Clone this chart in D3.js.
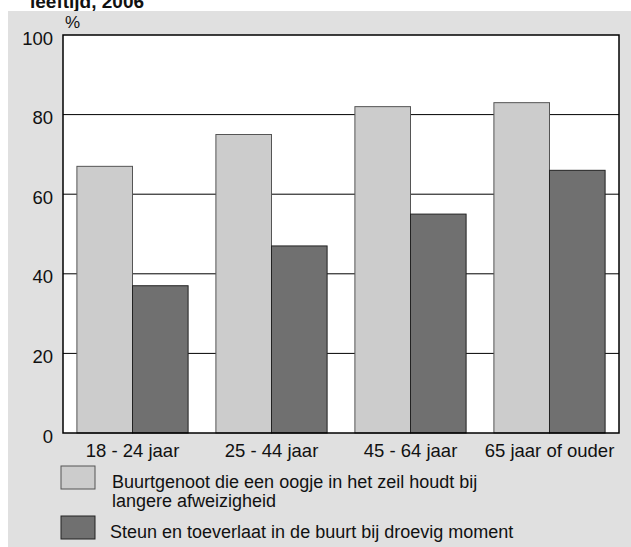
<!DOCTYPE html>
<html>
<head>
<meta charset="utf-8">
<script src="https://cdn.jsdelivr.net/npm/d3@7"></script>
<style>
  body { margin: 0; background: #fff; }
  text { font-family: "Liberation Sans", Arial, Helvetica, sans-serif; fill: #111; }
</style>
</head>
<body>
<script>
const width = 631;
const height = 547;

// data
const groups = ["18 - 24 jaar", "25 - 44 jaar", "45 - 64 jaar", "65 jaar of ouder"];
const seriesNames = [
  ["Buurtgenoot die een oogje in het zeil houdt bij", "langere afweizigheid"],
  ["Steun en toeverlaat in de buurt bij droevig moment"]
];
const oogje = [67, 75, 82, 83];
const steun = [37, 47, 55, 66];
const yTicks = [0, 20, 40, 60, 80, 100];

const colors = ["#cccccc", "#707070"];
const strokes = ["#555", "#222"];

const svg = d3.select("body")
  .append("svg")
  .attr("width", width)
  .attr("height", height);

// title line, only its lower part shows at the top edge
svg.append("text")
  .attr("x", 30)
  .attr("y", 8)
  .style("font-size", "19px")
  .style("font-weight", "bold")
  .text("leeftijd, 2006");

// grey panel
svg.append("rect")
  .attr("x", 8)
  .attr("y", 11)
  .attr("width", width - 8)
  .attr("height", height - 11)
  .attr("fill", "#e0e0e0");

const plot = { left: 63, right: 619, top: 35, bottom: 433 };

const y = d3.scaleLinear().domain([0, 100]).range([plot.bottom, plot.top]);
const x0 = d3.scaleBand().domain(groups).range([plot.left, plot.right])
  .paddingInner(0.2).paddingOuter(0.1);
const x1 = d3.scaleBand().domain([0, 1]).range([0, x0.bandwidth()]);

// plot background
svg.append("rect")
  .attr("x", plot.left)
  .attr("y", plot.top)
  .attr("width", plot.right - plot.left)
  .attr("height", plot.bottom - plot.top)
  .attr("fill", "#fff");

// gridlines
svg.append("g")
  .selectAll("line")
  .data(yTicks.filter(d => d > 0 && d < 100))
  .join("line")
  .attr("x1", plot.left)
  .attr("x2", plot.right)
  .attr("y1", d => y(d))
  .attr("y2", d => y(d))
  .attr("stroke", "#000")
  .attr("stroke-width", 1);

// bars
const rows = groups.map((g, i) => ({ g, vals: [oogje[i], steun[i]] }));
svg.append("g")
  .selectAll("g")
  .data(rows)
  .join("g")
  .attr("transform", d => `translate(${x0(d.g)},0)`)
  .selectAll("rect")
  .data(d => d.vals.map((v, k) => ({ v, k })))
  .join("rect")
  .attr("x", d => x1(d.k))
  .attr("y", d => y(d.v))
  .attr("width", x1.bandwidth())
  .attr("height", d => y(0) - y(d.v))
  .attr("fill", d => colors[d.k])
  .attr("stroke", d => strokes[d.k])
  .attr("stroke-width", 1);

// frame
svg.append("rect")
  .attr("x", plot.left)
  .attr("y", plot.top)
  .attr("width", plot.right - plot.left)
  .attr("height", plot.bottom - plot.top)
  .attr("fill", "none")
  .attr("stroke", "#000")
  .attr("stroke-width", 1.5);

// y tick labels
svg.append("g")
  .selectAll("text")
  .data(yTicks)
  .join("text")
  .attr("x", 53)
  .attr("y", d => y(d) + 9.5)
  .attr("text-anchor", "end")
  .style("font-size", "18.5px")
  .text(d => d);

svg.append("text")
  .attr("x", 65)
  .attr("y", 28)
  .style("font-size", "17px")
  .text("%");

// x labels
svg.append("g")
  .selectAll("text")
  .data(groups)
  .join("text")
  .attr("x", d => x0(d) + x0.bandwidth() / 2)
  .attr("y", 457)
  .attr("text-anchor", "middle")
  .style("font-size", "18.5px")
  .text(d => d);

// legend
const legendY = [466, 516];
const legend = svg.append("g")
  .selectAll("g")
  .data(seriesNames)
  .join("g")
  .attr("transform", (d, i) => `translate(61,${legendY[i]})`);

legend.append("rect")
  .attr("width", 34)
  .attr("height", 23)
  .attr("fill", (d, i) => colors[i])
  .attr("stroke", (d, i) => strokes[i])
  .attr("stroke-width", 1);

legend.append("text")
  .attr("x", (d, i) => i === 0 ? 51 : 49)
  .attr("y", (d, i) => i === 0 ? 22 : 22)
  .style("font-size", "18px")
  .selectAll("tspan")
  .data(d => d)
  .join("tspan")
  .attr("x", function () { return d3.select(this.parentNode).attr("x"); })
  .attr("dy", (d, j) => j === 0 ? 0 : 19)
  .text(d => d);
</script>
</body>
</html>
